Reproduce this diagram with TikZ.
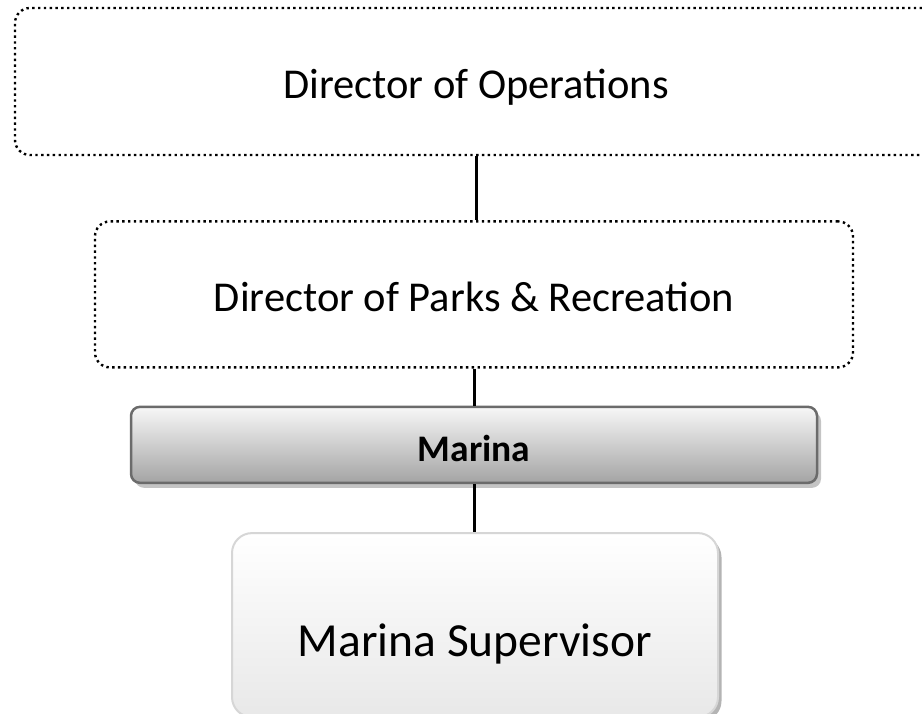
\documentclass[tikz,border=0pt]{standalone}
\usepackage{fontspec}
\setmainfont{Carlito}
\usepackage{xcolor}
\usepackage{tikz}
\usetikzlibrary{positioning, shadings, shadows}
\definecolor{ink}{HTML}{000000}
\definecolor{barline}{HTML}{6B6B6B}
\definecolor{bartop}{HTML}{F7F7F7}
\definecolor{barbottom}{HTML}{A4A4A4}
\definecolor{barshade}{HTML}{C4C4C4}
\definecolor{roleline}{HTML}{D6D6D6}
\definecolor{roletop}{HTML}{FFFFFF}
\definecolor{rolebottom}{HTML}{E8E8E8}
\definecolor{roleshade}{HTML}{B4B4B4}
\tikzset{
  office/.style   = {rectangle, rounded corners=15pt, draw=ink, line width=2.4pt,
                     dash pattern=on 2.4pt off 3.4pt, fill=white,
                     align=center, font=\fontsize{42.5}{50}\selectfont,
                     text height=42pt, text depth=8pt},
  unit/.style     = {rectangle, rounded corners=9pt, draw=barline, line width=2.5pt,
                     top color=bartop, bottom color=barbottom,
                     drop shadow={shadow xshift=4pt, shadow yshift=-5pt,
                                  fill=barshade, opacity=1},
                     align=center, font=\fontsize{37.5}{45}\selectfont\bfseries,
                     text height=34pt, text depth=0pt},
  role/.style     = {rectangle, rounded corners=20pt, draw=roleline, line width=2pt,
                     top color=roletop, bottom color=rolebottom,
                     drop shadow={shadow xshift=3.5pt, shadow yshift=-4pt,
                                  fill=roleshade, opacity=1},
                     align=center, font=\fontsize{47.5}{57}\selectfont,
                     text height=72pt, text depth=10pt},
  link/.style     = {draw=ink, line width=3pt},
}
\begin{document}
\begin{tikzpicture}[x=1pt, y=-1pt]

  \useasboundingbox (0,0) rectangle (922,714);

  \node[office, minimum width=922pt, minimum height=147pt] (ops) at (476,81.5) {Director of Operations};
  \node[office, below=64pt of ops, minimum width=758pt, minimum height=146pt, xshift=-2pt] (parks) {Director of Parks \& Recreation};
  \node[unit, below=37pt of parks, minimum width=686pt, minimum height=76pt] (marina) {Marina};
  \node[role, below=48pt of marina, minimum width=486pt, minimum height=184pt, xshift=1pt] (super) {Marina Supervisor};

  \draw[link] (ops.south) -- (parks.north -| ops.south);
  \draw[link] (parks.south) -- (marina.north);
  \draw[link] (marina.south) -- (super.north -| marina.south);

\end{tikzpicture}
\end{document}
